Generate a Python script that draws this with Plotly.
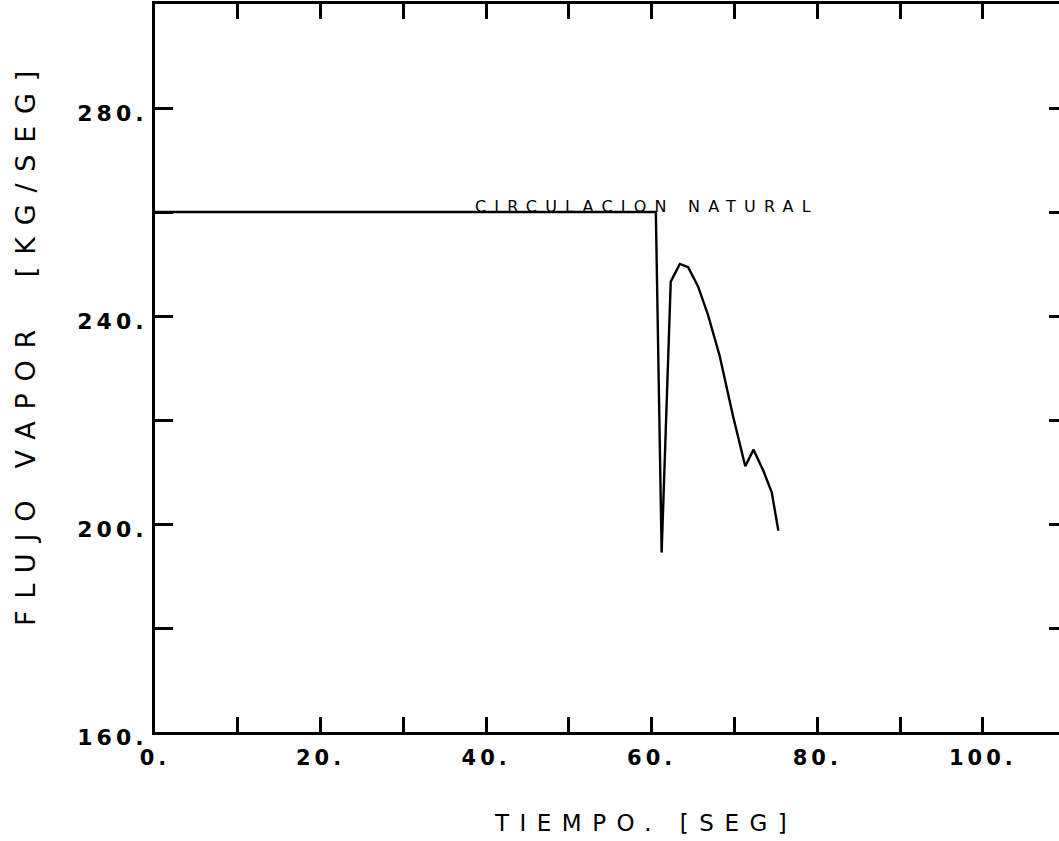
import plotly.graph_objects as go

# ---- data ----
time_s = [0, 60.5, 61.2, 62.3, 63.4, 64.4, 65.6, 66.8, 68.2, 69.8, 71.3, 72.3, 73.5, 74.5, 75.3]
flow = [260, 260, 194.5, 246.6, 250.0, 249.4, 245.7, 240.2, 232.4, 220.9, 211.1, 214.3, 210.2, 206.1, 198.7]

x_tick_vals = [0, 10, 20, 30, 40, 50, 60, 70, 80, 90, 100]
x_tick_text = ["0.", "", "20.", "", "40.", "", "60.", "", "80.", "", "100."]
y_tick_vals = [160, 180, 200, 220, 240, 260, 280]
y_tick_text = ["160.", "", "200.", "", "240.", "", "280."]
y_right_ticks = [180, 200, 220, 240, 260, 280]

x_title = "TIEMPO. [SEG]"
y_title = "FLUJO VAPOR\u00a0\u00a0[KG/SEG]"
note_text = "CIRCULACION NATURAL"
note_x, note_y = 38.4, 258.8

X_RANGE = [0, 109.2]
Y_RANGE = [160, 300]


def spaced(t, px):
    return f'<span style="letter-spacing:{px}px">{t}</span>' if t else ""


FONT = "DejaVu Sans"

fig = go.Figure()
fig.add_trace(go.Scatter(x=time_s, y=flow, mode="lines",
                         line=dict(color="black", width=2.4), showlegend=False))
# empty trace so that the right-hand tick axis gets drawn
fig.add_trace(go.Scatter(x=[None], y=[None], yaxis="y2", mode="lines",
                         showlegend=False, hoverinfo="skip"))

fig.update_layout(
    width=1059, height=841,
    margin=dict(l=155, r=0, t=4, b=109),
    paper_bgcolor="white", plot_bgcolor="white",
    xaxis=dict(range=X_RANGE, tickmode="array", tickvals=x_tick_vals,
               ticktext=[spaced(t, 4) for t in x_tick_text],
               ticks="inside", ticklen=15, tickwidth=2.5, tickcolor="black",
               showline=True, linewidth=3, linecolor="black", mirror="ticks",
               showgrid=False, zeroline=False, ticklabelstandoff=5,
               tickfont=dict(family=FONT, size=21, color="black", weight="bold")),
    yaxis=dict(range=Y_RANGE, tickmode="array", tickvals=y_tick_vals,
               ticktext=[spaced(t, 4) for t in y_tick_text],
               ticks="inside", ticklen=18, tickwidth=2.5, tickcolor="black",
               showline=True, linewidth=3, linecolor="black", mirror=False,
               showgrid=False, zeroline=False, ticklabelshift=5,
               tickfont=dict(family=FONT, size=22, color="black", weight="bold")),
    yaxis2=dict(range=Y_RANGE, overlaying="y", side="right", anchor="x",
                tickmode="array", tickvals=y_right_ticks, showticklabels=False,
                ticks="inside", ticklen=10, tickwidth=2.5, tickcolor="black",
                showline=False, showgrid=False, zeroline=False),
)

fig.add_annotation(text=spaced(x_title, 10.5), xref="paper", yref="paper",
                   x=(645 - 155) / 904, y=(732 - 823) / 728,
                   xanchor="center", yanchor="middle", showarrow=False,
                   font=dict(family=FONT, size=23, color="black"))
fig.add_annotation(text=spaced(y_title, 11.8), xref="paper", yref="paper",
                   x=(25 - 155) / 904, y=(732 - 343) / 728, textangle=-90,
                   xanchor="center", yanchor="middle", showarrow=False,
                   font=dict(family=FONT, size=27, color="black"))
fig.add_annotation(text=spaced(note_text, 8.2), x=note_x, y=note_y,
                   xanchor="left", yanchor="bottom", showarrow=False,
                   font=dict(family=FONT, size=16, color="black"))

fig.write_html("out.html")
